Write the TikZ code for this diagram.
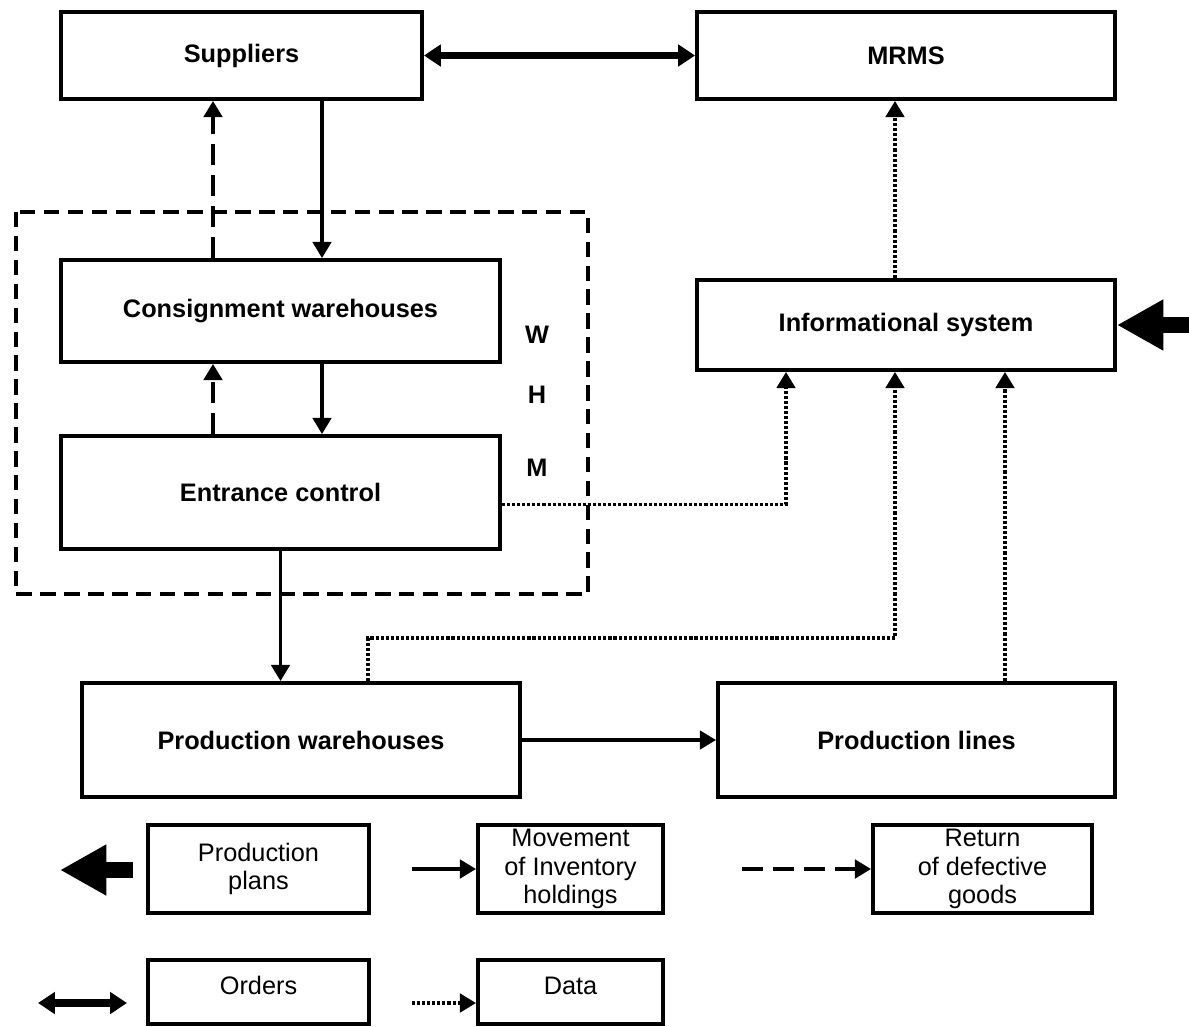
\documentclass[tikz,border=0pt]{standalone}
\usepackage{fontspec}
\setmainfont{Liberation Sans}
\usetikzlibrary{arrows.meta,positioning,calc}
\tikzset{
    block/.style={rectangle, draw, line width=2.7pt, inner sep=0pt, align=center, font=\fontsize{18}{21}\selectfont\bfseries},
    legend/.style={rectangle, draw, line width=2.7pt, inner sep=0pt, align=center, font=\fontsize{18}{20.5}\selectfont},
    letter/.style={font=\fontsize{18}{21}\selectfont\bfseries},
    moveline/.style={draw, line width=2.7pt, -{Triangle[length=11.5pt, width=13pt]}},
    retline/.style={draw, line width=3pt, dash pattern=on 15pt off 7pt, -{Triangle[length=11.5pt, width=13pt]}},
    dataline/.style={draw, line width=2.8pt, dash pattern=on 2.2pt off 1.4pt, -{Triangle[length=11.5pt, width=13pt]}},
    orderline/.style={draw, line width=5pt, {Triangle[length=12pt, width=15pt]}-{Triangle[length=12pt, width=15pt]}},
    planarrow/.style={draw, line width=11.5pt, -{Triangle[length=33pt, width=34pt]}},
    whmbox/.style={draw, line width=2.8pt, dash pattern=on 11pt off 6pt}
}
\begin{document}
\begin{tikzpicture}[x=0.025cm, y=-0.025cm]
    \useasboundingbox (0,0) rectangle (1189,1026);

    % Main blocks
    \node [block, minimum width=9.025cm, minimum height=2.175cm] (sup) at (241.5,55.5) {Suppliers};
    \node [block, minimum width=10.45cm, minimum height=2.175cm] (mrms) at (906,55.5) {MRMS};
    \node [block, minimum width=10.975cm, minimum height=2.55cm] (cons) at (280.5,311) {Consignment warehouses};
    \node [block, minimum width=10.975cm, minimum height=2.825cm] (entr) at (280.5,492.5) {Entrance control};
    \node [block, minimum width=10.45cm, minimum height=2.25cm] (info) at (906,325) {Informational system};
    \node [block, minimum width=10.95cm, minimum height=2.85cm] (pwh) at (301,740) {Production warehouses};
    \node [block, minimum width=9.925cm, minimum height=2.85cm] (plin) at (916.5,740) {Production lines};

    % Warehouse management frame
    \draw [whmbox] (16,212) rectangle (588,594);
    \node [letter] (lw) at (537,335) {W};
    \node [letter] (lh) at (537,395) {H};
    \node [letter] (lm) at (537,468) {M};

    % Helper coordinates
    \coordinate (xa) at (322,0);
    \coordinate (xb) at (213,0);
    \coordinate (xd) at (786,0);
    \coordinate (xg) at (895,0);
    \coordinate (xh) at (1005,0);
    \coordinate (bend) at (368,638);
    \coordinate (planin) at (1189,325);

    % Orders
    \path [orderline] (sup) -- (mrms);

    % Movement of goods
    \path [moveline] (sup.south -| xa) -- (cons.north -| xa);
    \path [moveline] (cons.south -| xa) -- (entr.north -| xa);
    \path [moveline] (entr.south) -- (entr.south |- pwh.north);
    \path [moveline] (pwh) -- (plin);

    % Returns
    \path [retline] (cons.north -| xb) -- (sup.south -| xb);
    \path [retline] (entr.north -| xb) -- (cons.south -| xb);

    % Data flows
    \path [dataline] ([yshift=-0.3cm]entr.east) -| (info.south -| xd);
    \path [dataline] (pwh.north -| bend) -- (bend) -| (info.south -| xg);
    \path [dataline] (plin.north -| xh) -- (info.south -| xh);
    \path [dataline] (info.north -| xg) -- (mrms.south -| xg);

    % Production plans
    \path [planarrow] (planin) -- (info.east);

    % Legend
    \node [legend, minimum width=5.525cm, minimum height=2.2cm] (lplan) at (258.5,869) {Production\\plans};
    \node [legend, minimum width=4.625cm, minimum height=2.2cm] (lmove) at (570.5,869) {Movement\\of Inventory\\holdings};
    \node [legend, minimum width=5.475cm, minimum height=2.2cm] (lret) at (982.5,869) {Return\\of defective\\goods};
    \node [legend, minimum width=5.525cm, minimum height=1.6cm, text height=0.45cm, text depth=0.35cm] (lord) at (258.5,992) {Orders};
    \node [legend, minimum width=4.625cm, minimum height=1.6cm, text height=0.45cm, text depth=0.35cm] (ldata) at (570.5,992) {Data};

    \coordinate (kplan) at (133,870);
    \coordinate (kplantip) at (60,870);
    \coordinate (kmove) at (412,869);
    \coordinate (kret) at (742,869);
    \coordinate (kord) at (38,1003);
    \coordinate (kordend) at (127,1003);
    \coordinate (kdata) at (412,1003);

    \path [planarrow] (kplan) -- (kplantip);
    \path [moveline] (kmove) -- (lmove);
    \path [retline] (kret) -- (lret);
    \path [orderline] (kord) -- (kordend);
    \path [dataline] (kdata) -- (kdata -| ldata.west);
\end{tikzpicture}
\end{document}
